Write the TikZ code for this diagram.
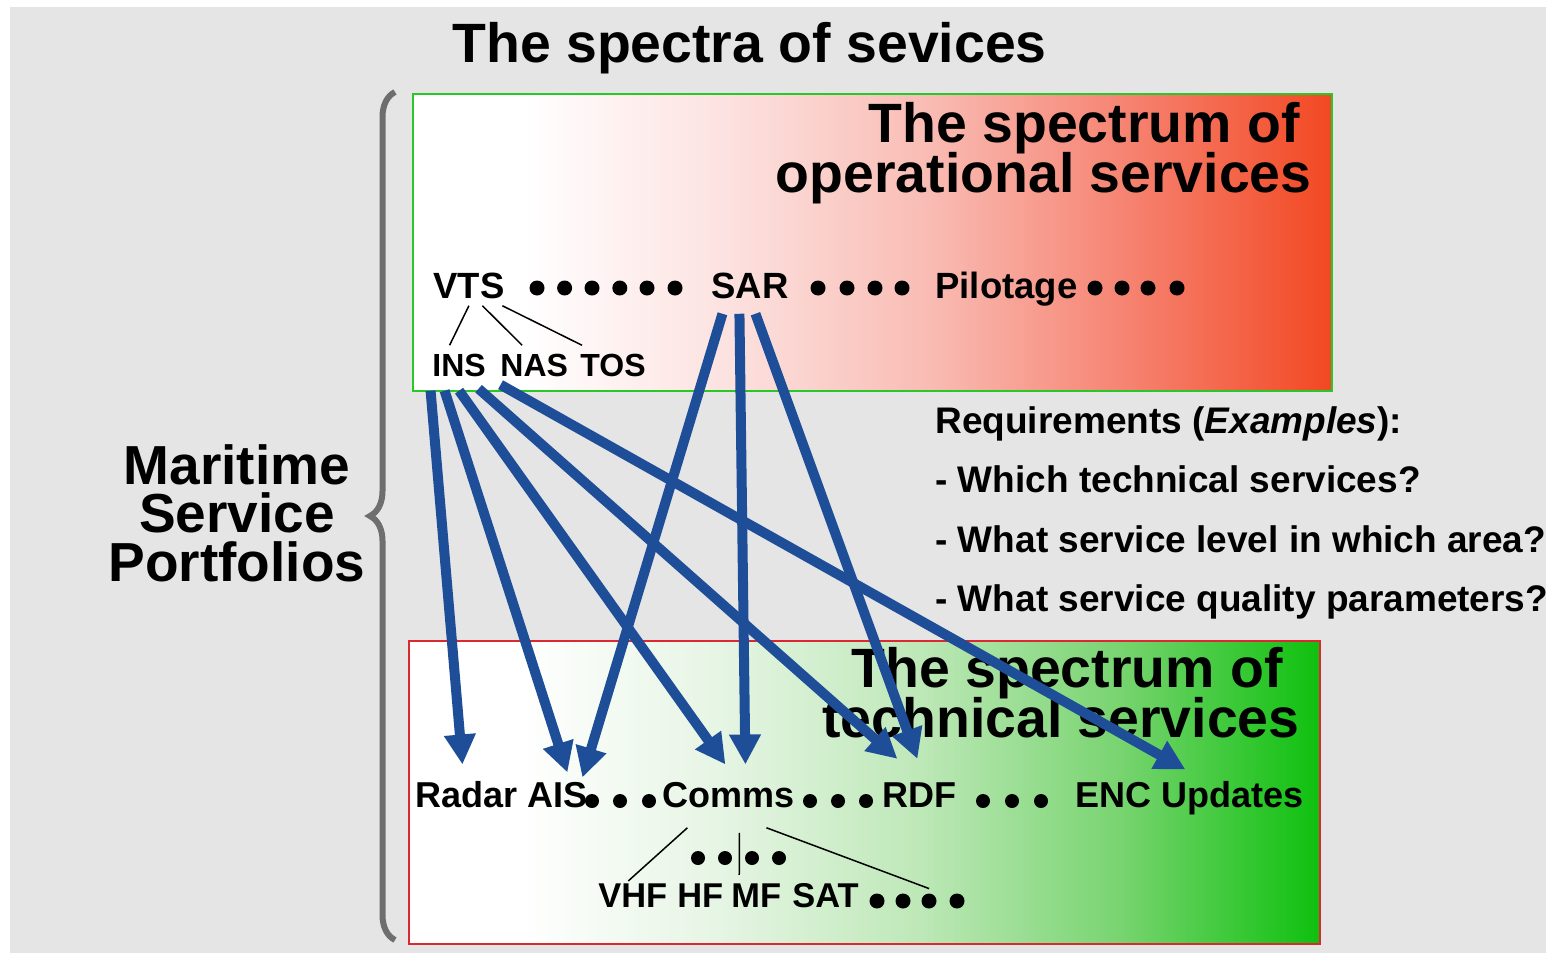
\documentclass[tikz,border=0pt]{standalone}
\usepackage{fontspec}
\setmainfont{Liberation Sans}
\usetikzlibrary{arrows.meta,calc,decorations.pathreplacing}

\definecolor{bggray}{RGB}{229,229,229}
\definecolor{opgreen}{RGB}{40,200,40}
\definecolor{tcred}{RGB}{220,40,50}
\definecolor{bracegray}{RGB}{110,110,110}
\definecolor{flowblue}{RGB}{31,78,152}
\definecolor{opA}{RGB}{252,226,224}
\definecolor{opB}{RGB}{249,188,180}
\definecolor{opC}{RGB}{246,130,112}
\definecolor{opD}{RGB}{242,72,34}
\definecolor{tcA}{RGB}{230,245,228}
\definecolor{tcB}{RGB}{190,232,184}
\definecolor{tcC}{RGB}{120,212,112}
\definecolor{tcD}{RGB}{14,192,14}
\pgfdeclarehorizontalshading{opshade}{100bp}{color(0bp)=(white); color(25bp)=(white); color(31bp)=(white); color(42bp)=(opA); color(53bp)=(opB); color(64bp)=(opC); color(75bp)=(opD); color(100bp)=(opD)}
\pgfdeclarehorizontalshading{tcshade}{100bp}{color(0bp)=(white); color(25bp)=(white); color(31bp)=(white); color(42bp)=(tcA); color(53bp)=(tcB); color(64bp)=(tcC); color(75bp)=(tcD); color(100bp)=(tcD)}
\newcommand{\fsz}[2]{\fontsize{#1pt}{#2pt}\selectfont}
\newcommand{\noskiplim}{\lineskiplimit=-100pt\relax}

\begin{document}
\begin{tikzpicture}[x=0.5pt,y=-0.5pt,
	lbl/.style={inner sep=0pt,anchor=base west,font=\bfseries\fsz{18.25}{22}},
	sub/.style={lbl,font=\bfseries\fsz{16}{19}},
	tech/.style={lbl,font=\bfseries\fsz{18}{22}},
	band/.style={lbl,font=\bfseries\fsz{17.2}{21}},
	big/.style={inner sep=0pt,font=\bfseries\fsz{27.7}{25}\noskiplim},
	twig/.style={line width=0.75pt},
	flow/.style={flowblue,line width=5pt,-{Triangle[width=15pt,length=15pt]}}]
	\useasboundingbox (0,0) rectangle (1546,953);
	\fill[white] (0,0) rectangle (1546,953);
	\fill[bggray] (10,7) rectangle (1546,953);

	% the two spectra
	\shadedraw[shading=opshade,draw=opgreen,line width=1.2pt] (413,94) rectangle (1332,391);
	\shadedraw[shading=tcshade,draw=tcred,line width=1.2pt] (409,641) rectangle (1320,944);
	\draw[bracegray,line width=3pt,decorate,decoration={brace,amplitude=12.5pt}] (395,940) -- (395,92);

	\node[big,anchor=base west] (title) at (452,62) {The spectra of sevices};
	\node[big,anchor=north east,align=right] (ophead) at (1312,102) {The spectrum of\hspace*{6pt}\\operational services};
	\node[big,anchor=north east,align=right] (tchead) at (1300,647) {The spectrum of\hspace*{8.5pt}\\technical services};
	\node[big,anchor=north,align=center,font=\bfseries\fsz{27.5}{24.25}\noskiplim] (msp) at (237,444) {Maritime\\Service\\Portfolios};
	\node[inner sep=0pt,anchor=north west,align=left,font=\bfseries\fsz{18.5}{29.75}\noskiplim] (req) at (935,406)
		{Requirements (\textit{Examples}):\\- Which technical services?\\- What service level in which area?\\- What service quality parameters?};

	% operational services
	\node[lbl] (vts) at (433,298) {VTS};
	\node[lbl] (sar) at (711,298) {SAR};
	\node[lbl] (pilot) at (935,298) {Pilotage};
	\node[sub] (ins) at (432,376) {INS};
	\node[sub] (nas) at (500,376) {NAS};
	\node[sub] (tos) at (580,376) {TOS};

	% technical services
	\node[tech] (radar) at (415,807) {Radar};
	\node[tech] (ais) at (527,807) {AIS};
	\node[tech] (comms) at (662,807) {Comms};
	\node[tech] (rdf) at (882,807) {RDF};
	\node[tech] (enc) at (1075,807) {ENC Updates};
	\node[band] (vhf) at (598,907) {VHF};
	\node[band] (hf) at (677,907) {HF};
	\node[band] (mf) at (731,907) {MF};
	\node[band] (sat) at (792,907) {SAT};

	\foreach \x in {537,564.6,592,619.8,647,675,818,847,875,902,1095,1122,1148,1177}
		\fill (\x,288) circle (7.5);
	\foreach \x in {592,620,649,810,838,866,983,1012,1041}
		\fill (\x,801) circle (7);
	\foreach \x in {698,725,752,779}
		\fill (\x,858) circle (7);
	\foreach \x in {877,903,929,957}
		\fill (\x,901) circle (7.5);

	\draw[twig] ($(vts.south)+(0,7)$) -- ($(ins.north)+(-9.5,-8)$);
	\draw[twig] ($(vts.south)+(13.5,7)$) -- ($(nas.north)+(-12,-8)$);
	\draw[twig] ($(vts.south)+(33.5,7)$) -- ($(tos.north)+(-31,-8)$);
	\draw[twig] ($(comms.south)+(-41,20)$) -- ($(vhf.north)+(-4.5,-2)$);
	\draw[twig] ($(comms.south)+(11,25)$) -- ($(mf.north)+(-17,-8)$);
	\draw[twig] ($(comms.south)+(38,20)$) -- ($(sat.north)+(103.6,6)$);

	% requirements
	\draw[flow] ($(ins.south)+(-28.5,14)$) -- ($(radar.north)+(-4,-16)$);
	\draw[flow] ($(ins.south)+(-14.5,14)$) -- ($(ais.north)+(10,-9)$);
	\draw[flow] ($(ins.south)+(0,14)$) -- ($(comms.north)+(-3,-17)$);
	\draw[flow] ($(ins.south)+(19.5,12)$) -- ($(rdf.north)+(-22,-23)$);
	\draw[flow] ($(ins.south)+(41.5,8)$) -- ($(enc.north)+(-4,-11)$);
	\draw[flow] ($(sar.south)+(-27.5,15)$) -- ($(ais.north)+(25,-4)$);
	\draw[flow] ($(sar.south)+(-10.5,15)$) -- ($(comms.north)+(17,-17)$);
	\draw[flow] ($(sar.south)+(5.5,15)$) -- ($(rdf.north)+(-2,-23)$);
\end{tikzpicture}
\end{document}
